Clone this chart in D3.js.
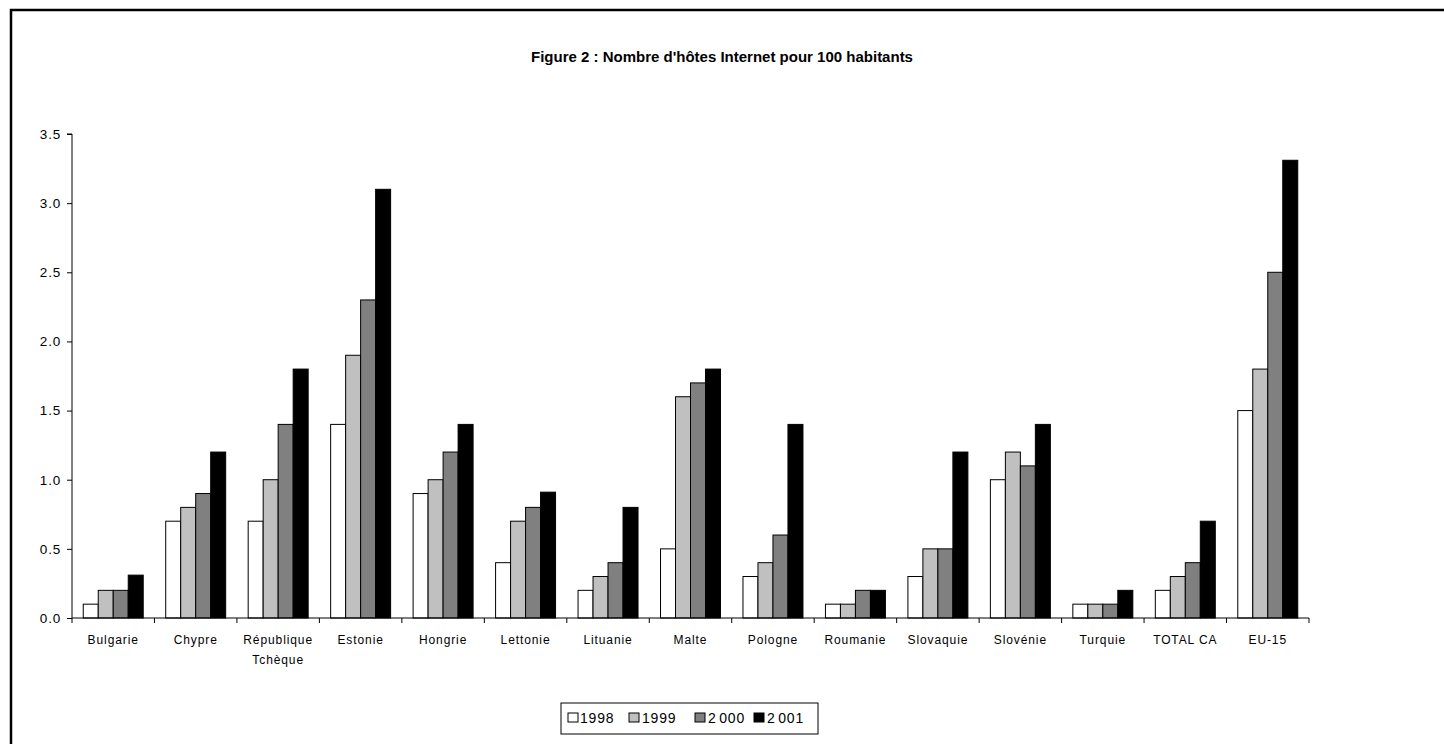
<!DOCTYPE html>
<html>
<head>
<meta charset="utf-8">
<script src="https://cdn.jsdelivr.net/npm/d3@7"></script>
<style>
  body { margin: 0; background: #fff; }
  svg { font-family: "Liberation Sans", Arial, sans-serif; }
</style>
</head>
<body>
<svg width="1444" height="744"></svg>
<script>
const countries = ["Bulgarie", "Chypre", "République\nTchèque", "Estonie", "Hongrie", "Lettonie", "Lituanie",
    "Malte", "Pologne", "Roumanie", "Slovaquie", "Slovénie", "Turquie", "TOTAL CA", "EU-15"];
const years = ["1998", "1999", "2 000", "2 001"];
const v1998 = [0.1, 0.7, 0.7, 1.4, 0.9, 0.4, 0.2, 0.5, 0.3, 0.1, 0.3, 1.0, 0.1, 0.2, 1.5];
const v1999 = [0.2, 0.8, 1.0, 1.9, 1.0, 0.7, 0.3, 1.6, 0.4, 0.1, 0.5, 1.2, 0.1, 0.3, 1.8];
const v2000 = [0.2, 0.9, 1.4, 2.3, 1.2, 0.8, 0.4, 1.7, 0.6, 0.2, 0.5, 1.1, 0.1, 0.4, 2.5];
const v2001 = [0.31, 1.2, 1.8, 3.1, 1.4, 0.91, 0.8, 1.8, 1.4, 0.2, 1.2, 1.4, 0.2, 0.7, 3.31];
const yTicks = [0, 0.5, 1.0, 1.5, 2.0, 2.5, 3.0, 3.5];
const colors = ["#ffffff", "#c0c0c0", "#808080", "#000000"];

const series = [v1998, v1999, v2000, v2001];

const svg = d3.select("svg");

// outer frame
svg.append("rect")
    .attr("x", 11).attr("y", 10)
    .attr("width", 1445).attr("height", 745)
    .attr("fill", "none")
    .attr("stroke", "#000")
    .attr("stroke-width", 2.5);

svg.append("text")
    .attr("x", 722).attr("y", 62)
    .attr("text-anchor", "middle")
    .attr("font-size", 15)
    .attr("font-weight", "bold")
    .text("Figure 2 : Nombre d'hôtes Internet pour 100 habitants");

const plotLeft = 72, plotRight = 1309, plotTop = 134, plotBottom = 618;

const x = d3.scaleBand()
    .domain(d3.range(countries.length))
    .range([plotLeft, plotRight])
    .paddingInner(0)
    .paddingOuter(0);

const xInner = d3.scaleBand()
    .domain(d3.range(years.length))
    .range([0, x.bandwidth()])
    .paddingOuter(0.75)
    .paddingInner(0);

const y = d3.scaleLinear().domain([0, 3.5]).range([plotBottom, plotTop]);

const g = svg.append("g");

// bars
const groups = g.selectAll("g.country")
    .data(countries)
    .join("g")
    .attr("class", "country")
    .attr("transform", (d, i) => `translate(${x(i)},0)`);

groups.selectAll("rect")
    .data((d, i) => series.map((s, k) => ({ k: k, v: s[i] })))
    .join("rect")
    .attr("x", d => xInner(d.k))
    .attr("width", xInner.bandwidth())
    .attr("y", d => y(d.v))
    .attr("height", d => y(0) - y(d.v))
    .attr("fill", d => colors[d.k])
    .attr("stroke", "#000")
    .attr("stroke-width", 1);

// y axis
const yAxis = g.append("g")
    .attr("transform", `translate(${plotLeft},0)`)
    .call(d3.axisLeft(y).tickValues(yTicks).tickFormat(d3.format(".1f")).tickSize(5).tickPadding(6));
yAxis.select(".domain").attr("d", `M-5,${plotTop}H0V${plotBottom}`);
yAxis.selectAll("text").attr("font-size", 13.5).attr("fill", "#000")
    .attr("letter-spacing", 0.8)
    .attr("font-family", "Liberation Sans, Arial, sans-serif");

// x axis
const xAxis = g.append("g")
    .attr("transform", `translate(0,${plotBottom})`);
xAxis.append("line")
    .attr("x1", plotLeft).attr("x2", plotRight)
    .attr("stroke", "#000");
xAxis.selectAll("line.tick")
    .data(d3.range(countries.length + 1))
    .join("line")
    .attr("class", "tick")
    .attr("x1", i => plotLeft + i * x.step())
    .attr("x2", i => plotLeft + i * x.step())
    .attr("y1", 0).attr("y2", 5)
    .attr("stroke", "#000");

xAxis.selectAll("text")
    .data(countries)
    .join("text")
    .attr("x", (d, i) => x(i) + x.bandwidth() / 2)
    .attr("y", 26)
    .attr("text-anchor", "middle")
    .attr("font-size", 12)
    .attr("letter-spacing", 0.9)
    .each(function (d) {
        const lines = d.split("\n");
        d3.select(this).selectAll("tspan")
            .data(lines)
            .join("tspan")
            .attr("x", d3.select(this).attr("x"))
            .attr("dy", (l, j) => j === 0 ? 0 : 20)
            .text(l => l);
    });

// legend
const legend = svg.append("g").attr("transform", "translate(561,703)");
legend.append("rect")
    .attr("width", 257).attr("height", 31)
    .attr("fill", "#fff")
    .attr("stroke", "#000");

const legendBoxX = [7, 68, 134, 193];
const legendTextX = [19, 81, 147, 206];
const items = legend.selectAll("g.item")
    .data(years)
    .join("g")
    .attr("class", "item");
items.append("rect")
    .attr("x", (d, i) => legendBoxX[i]).attr("y", 10)
    .attr("width", 10).attr("height", 9)
    .attr("fill", (d, i) => colors[i])
    .attr("stroke", "#000");
items.append("text")
    .attr("x", (d, i) => legendTextX[i]).attr("y", 20)
    .attr("font-size", 14)
    .attr("letter-spacing", 0.8)
    .attr("word-spacing", -2)
    .text(d => d);
</script>
</body>
</html>
